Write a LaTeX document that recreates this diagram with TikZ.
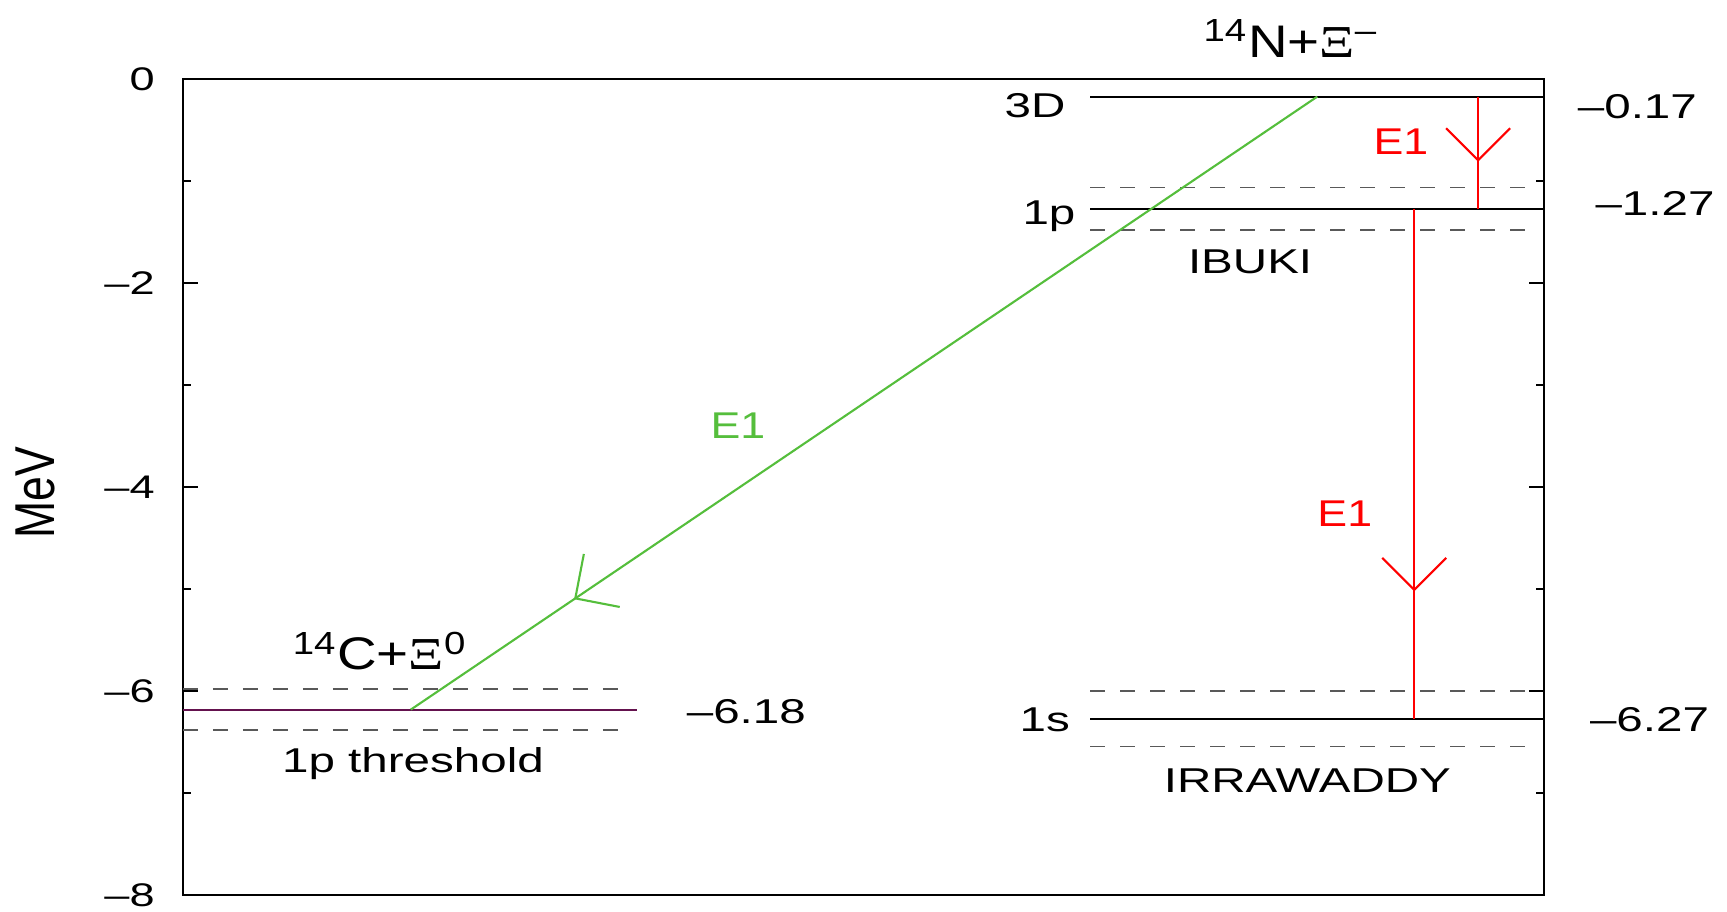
\documentclass[tikz,border=0pt]{standalone}
\usepackage{fontspec}
\setmainfont{Liberation Sans}[FakeStretch=1.38]
\newfontfamily\narrowsans{Liberation Sans}[FakeStretch=1.2]
\newfontfamily\xifont{Liberation Serif}[FakeStretch=1.2]
\usepackage{graphicx}
\usetikzlibrary{arrows.meta,decorations.markings}

\definecolor{thrpurple}{RGB}{100,18,78}
\definecolor{eonegreen}{RGB}{85,190,60}

\begin{document}
\begin{tikzpicture}[
    x=0.11014mm, y=10.199mm,
    level/.style={line width=0.6pt},
    band/.style={draw=black!65, line width=0.45pt,
                 dash pattern=on 1.5mm off 1.5mm},
    tick/.style={line width=0.45pt},
    lbl/.style={font=\fontsize{9.8}{12}\selectfont, inner sep=0pt},
    ticklbl/.style={font=\fontsize{9.3}{11}\selectfont, inner sep=0pt},
    elbl/.style={font=\narrowsans\fontsize{10.6}{12}\selectfont,
                 inner sep=0pt},
    big/.style={font=\narrowsans\fontsize{13}{15}\selectfont,
                inner sep=0pt},
    trans/.style={line width=0.6pt, postaction={decorate},
        decoration={markings, mark=at position #1 with
            {\arrow{Straight Barb[length=3.2mm, width=6.4mm]}}}},
]
    \useasboundingbox (0,0.7775) rectangle (1568,-8.164);

    % frame and ticks
    \draw[line width=0.55pt] (166,0) rectangle (1402,-8);
    \foreach \y in {-2,-4,-6} {
        \draw[tick] (166,\y) -- (180,\y);
        \draw[tick] (1402,\y) -- (1388,\y);
    }
    \foreach \y in {-1,-3,-5,-7} {
        \draw[tick] (166,\y) -- (173,\y);
        \draw[tick] (1402,\y) -- (1395,\y);
    }
    \foreach \y/\t [count=\i] in {0/0,-2/\textendash2,-4/\textendash4,
                                  -6/\textendash6,-8/\textendash8}
        \node[ticklbl, anchor=east] (ylab\i) at (141,\y) {\t};
    \node[rotate=90, inner sep=0pt] (mev) at (32,-4.05)
        {\scalebox{0.574}[1]{\fontsize{16}{18}\selectfont MeV}};

    % levels
    \coordinate (thrL) at (166,-6.18);
    \coordinate (thrR) at (578,-6.18);
    \coordinate (dthreeL) at (990,-0.17);
    \coordinate (dthreeR) at (1402,-0.17);
    \coordinate (ponepL) at (990,-1.27);
    \coordinate (ponepR) at (1402,-1.27);
    \coordinate (sonesL) at (990,-6.27);
    \coordinate (sonesR) at (1402,-6.27);

    \draw[band] (166,-5.98) -- (565,-5.98);
    \draw[band] (166,-6.38) -- (565,-6.38);
    \draw[band] (990,-1.06) -- (1390,-1.06);
    \draw[band] (990,-1.48) -- (1390,-1.48);
    \draw[band] (990,-6.00) -- (1390,-6.00);
    \draw[band] (990,-6.54) -- (1390,-6.54);

    \draw[level, thrpurple] (thrL) -- (thrR);
    \draw[level] (dthreeL) -- (dthreeR);
    \draw[level] (ponepL) -- (ponepR);
    \draw[level] (sonesL) -- (sonesR);

    % labels
    \node[big, anchor=base] (cxi) at (345,-5.79)
        {\textsuperscript{14}C+{\xifont Ξ}\textsuperscript{0}};
    \node[big, anchor=base] (nxi) at (1172,0.216)
        {\textsuperscript{14}N+{\xifont Ξ}\textsuperscript{\textendash}};
    \node[lbl, anchor=base] (thrlab) at (375,-6.80) {1p threshold};
    \node[lbl, anchor=base west] (thrval) at (623,-6.32) {\textendash6.18};
    \node[lbl, anchor=base east] (dthree) at (968,-0.378) {3D};
    \node[lbl, anchor=base east] (ponep) at (977,-1.425) {1p};
    \node[lbl, anchor=base east] (sones) at (972,-6.39) {1s};
    \node[lbl, anchor=base west] (dthreeval) at (1432,-0.389) {\textendash0.17};
    \node[lbl, anchor=base west] (ponepval) at (1448,-1.34) {\textendash1.27};
    \node[lbl, anchor=base west] (sonesval) at (1443,-6.39) {\textendash6.27};
    \node[lbl, anchor=base] (ibuki) at (1135,-1.90) {IBUKI};
    \node[lbl, anchor=base] (irra) at (1187,-6.99) {IRRAWADDY};

    % transitions
    \coordinate (gtop) at (1196,-0.17);
    \coordinate (gbot) at (373,-6.18);
    \coordinate (ratop) at (1342,-0.17);
    \coordinate (rabot) at (1342,-1.27);
    \coordinate (rbtop) at (1284,-1.27);
    \coordinate (rbbot) at (1284,-6.27);

    \draw[trans=0.82, eonegreen] (gtop) -- (gbot);
    \draw[trans=0.58, red] (ratop) -- (rabot);
    \draw[trans=0.75, red] (rbtop) -- (rbbot);

    \node[elbl, anchor=base, eonegreen] (ge) at (670,-3.52) {E1};
    \node[elbl, anchor=base, red] (rae) at (1272,-0.734) {E1};
    \node[elbl, anchor=base, red] (rbe) at (1221,-4.384) {E1};
\end{tikzpicture}
\end{document}
